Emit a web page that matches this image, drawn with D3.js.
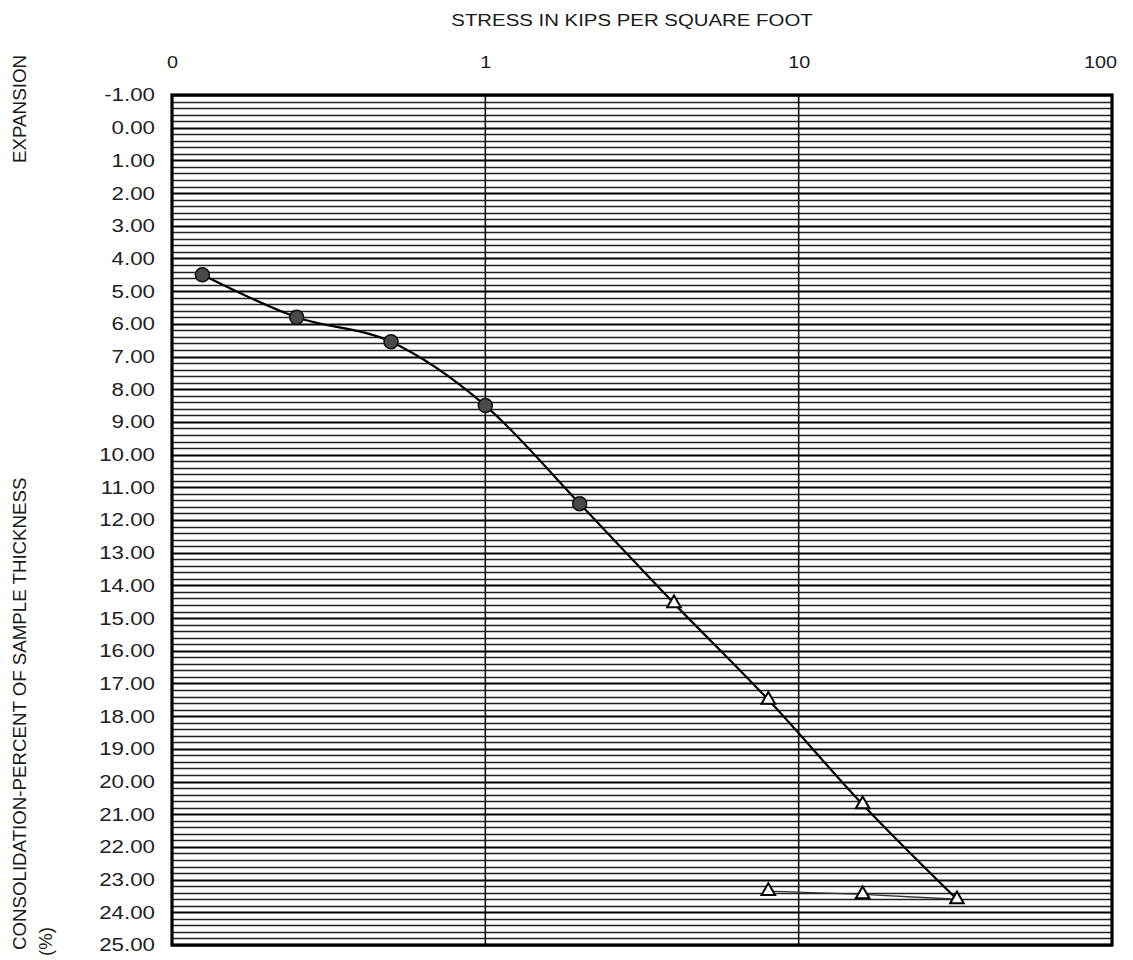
<!DOCTYPE html>
<html>
<head>
<meta charset="utf-8">
<script src="https://cdn.jsdelivr.net/npm/d3@7"></script>
<style>
  html, body { margin: 0; padding: 0; background: #fff; }
  svg { display: block; }
  text { font-family: "Liberation Sans", Arial, sans-serif; fill: #1a1a1a; }
</style>
</head>
<body>
<svg id="chart" width="1133" height="960"></svg>
<script>
// Consolidation test: stress (ksf) vs. consolidation (% of sample thickness)
const stressTicks = [0.1, 1, 10, 100];
const stressTickLabels = ["0", "1", "10", "100"];
const strainTicks = d3.range(-1, 26, 1);

// loading curve (circles before inundation, triangles after)
const circleStress = [0.125, 0.25, 0.5, 1, 2];
const circleStrain = [4.5, 5.8, 6.55, 8.5, 11.5];
const triangleStress = [4, 8, 16, 32];
const triangleStrain = [14.55, 17.5, 20.7, 23.6];

// unloading (rebound) points
const reboundStress = [32, 16, 8];
const reboundStrain = [23.6, 23.45, 23.35];

const svg = d3.select("#chart");
const plot = { left: 172, right: 1112, top: 95, bottom: 945 };
const stretch = 1.2; // the lettering is set wide

const x = d3.scaleLog().domain([0.1, 100]).range([plot.left, plot.right]);
const y = d3.scaleLinear().domain([-1, 25]).range([plot.top, plot.bottom]);

// horizontal grid, every 0.2 %
const gridVals = d3.range(-1, 25.0001, 0.2).map(v => Math.round(v * 10) / 10);
const grid = svg.append("g");
grid.selectAll("line.h")
  .data(gridVals)
  .join("line")
  .attr("x1", plot.left).attr("x2", plot.right)
  .attr("y1", d => Math.round(y(d)) + 0.5).attr("y2", d => Math.round(y(d)) + 0.5)
  .attr("stroke", d => Number.isInteger(d) ? "#000" : "#222")
  .attr("stroke-width", d => Number.isInteger(d) ? 2.1 : 1.5);

// vertical grid at decades
grid.selectAll("line.v")
  .data([1, 10])
  .join("line")
  .attr("x1", d => x(d)).attr("x2", d => x(d))
  .attr("y1", plot.top).attr("y2", plot.bottom)
  .attr("stroke", "#111").attr("stroke-width", 1.6);

// plot frame
svg.append("rect")
  .attr("x", plot.left).attr("y", plot.top)
  .attr("width", plot.right - plot.left).attr("height", plot.bottom - plot.top)
  .attr("fill", "none").attr("stroke", "#000").attr("stroke-width", 3.2);

// axes
const xAxis = d3.axisTop(x)
  .tickValues(stressTicks)
  .tickFormat((d, i) => stressTickLabels[i])
  .tickSize(0).tickPadding(0);
svg.append("g")
  .attr("transform", `translate(0,${plot.top - 33})`)
  .call(xAxis)
  .call(g => g.select(".domain").remove())
  .selectAll("text")
  .style("font-size", "16.5px")
  .attr("dy", "0.36em")
  .attr("x", (d, i, n) => i === n.length - 1 ? -12 / stretch : 0)
  .attr("transform", `scale(${stretch},1)`);

const yAxis = d3.axisLeft(y)
  .tickValues(strainTicks)
  .tickFormat(d => d.toFixed(2))
  .tickSize(0);
svg.append("g")
  .attr("transform", `translate(${plot.left},0)`)
  .call(yAxis)
  .call(g => g.select(".domain").remove())
  .selectAll("text")
  .style("font-size", "18.6px")
  .style("fill", "#222")
  .attr("x", -17 / stretch)
  .attr("transform", `scale(${stretch},1)`);

// titles
svg.append("text")
  .attr("transform", `translate(632,26) scale(${stretch},1)`)
  .attr("text-anchor", "middle")
  .style("font-size", "17px")
  .text("STRESS IN KIPS PER SQUARE FOOT");

svg.append("text")
  .attr("transform", "translate(25.5,109) rotate(-90)")
  .attr("text-anchor", "middle")
  .style("font-size", "18.8px")
  .text("EXPANSION");

svg.append("text")
  .attr("transform", "translate(26,950) rotate(-90)")
  .attr("text-anchor", "start")
  .style("font-size", "18.7px")
  .text("CONSOLIDATION-PERCENT OF SAMPLE THICKNESS");

svg.append("text")
  .attr("transform", "translate(52,956) rotate(-90)")
  .attr("text-anchor", "start")
  .style("font-size", "18.7px")
  .text("(%)");

// loading curve
const loadPts = circleStress.map((s, i) => [s, circleStrain[i]])
  .concat(triangleStress.map((s, i) => [s, triangleStrain[i]]));
const line = d3.line()
  .x(d => x(d[0])).y(d => y(d[1]))
  .curve(d3.curveMonotoneX);
svg.append("path")
  .attr("d", line(loadPts))
  .attr("fill", "none").attr("stroke", "#000").attr("stroke-width", 2.2);

// rebound curve
const reboundLine = d3.line()
  .x(d => x(d[0])).y(d => y(d[1]));
const reboundPts = reboundStress.map((s, i) => [s, reboundStrain[i]]);
svg.append("path")
  .attr("d", reboundLine(reboundPts))
  .attr("fill", "none").attr("stroke", "#333").attr("stroke-width", 1.3);

// circle markers
svg.selectAll("circle.pt")
  .data(circleStress.map((s, i) => [s, circleStrain[i]]))
  .join("circle")
  .attr("cx", d => x(d[0])).attr("cy", d => y(d[1]))
  .attr("r", 7)
  .attr("fill", "#4a4a4a").attr("stroke", "#111").attr("stroke-width", 1.5);

// triangle markers
const tri = d3.symbol().type(d3.symbolTriangle).size(80);
const triPts = triangleStress.map((s, i) => [s, triangleStrain[i]])
  .concat(reboundStress.slice(1).map((s, i) => [s, reboundStrain[i + 1]]));
svg.selectAll("path.tri")
  .data(triPts)
  .join("path")
  .attr("transform", d => `translate(${x(d[0])},${y(d[1])})`)
  .attr("d", tri)
  .attr("fill", "#fff").attr("stroke", "#000").attr("stroke-width", 2);
</script>
</body>
</html>
